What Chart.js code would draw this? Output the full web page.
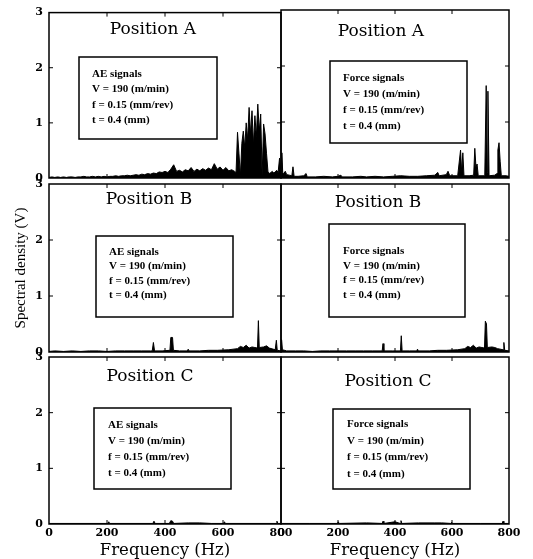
<!DOCTYPE html>
<html>
<head>
<meta charset="utf-8">
<script src="https://cdn.jsdelivr.net/npm/chart.js@4.4.1/dist/chart.umd.min.js"></script>
<style>
  body { margin: 0; background: #fff; }
  #wrap { position: relative; width: 533px; height: 559px; }
  #wrap canvas { position: absolute; left: 0; top: 0; }
</style>
</head>
<body>
<div id="wrap">
  <canvas id="aeA" width="533" height="559"></canvas>
  <canvas id="forceA" width="533" height="559"></canvas>
  <canvas id="aeB" width="533" height="559"></canvas>
  <canvas id="forceB" width="533" height="559"></canvas>
  <canvas id="aeC" width="533" height="559"></canvas>
  <canvas id="forceC" width="533" height="559"></canvas>
</div>
<script>
//spectra (frequency in Hz, spectral density in V)
var aeAFreq = [0,10,20,30,40,50,60,70,80,90,100,110,120,130,140,150,160,170,180,190,200,210,220,230,240,250,260,270,280,290,300,310,320,330,340,350,360,370,380,390,400,410,420,430,440,450,460,470,480,490,500,510,520,530,540,550,560,570,580,590,600,610,620,630,640,645,650,655,660,665,670,675,680,685,690,695,700,705,710,715,720,725,730,735,740,745,750,755,760,765,770,775,780,785,790,795,800];
var aeAVal = [0.01,0.02,0.01,0.02,0.01,0.02,0.01,0.02,0.02,0.01,0.02,0.02,0.03,0.02,0.02,0.03,0.02,0.03,0.02,0.03,0.02,0.03,0.03,0.04,0.03,0.04,0.04,0.05,0.04,0.05,0.06,0.05,0.07,0.06,0.08,0.07,0.09,0.08,0.11,0.1,0.12,0.1,0.16,0.24,0.12,0.14,0.11,0.15,0.13,0.19,0.12,0.16,0.13,0.17,0.14,0.18,0.15,0.26,0.16,0.2,0.14,0.19,0.13,0.15,0.12,0.1,0.83,0.45,0.04,0.63,0.85,0.55,1.0,0.7,1.28,0.8,1.22,0.6,1.13,0.75,1.34,0.85,1.16,0.04,0.98,0.8,0.45,0.12,0.08,0.1,0.12,0.09,0.11,0.14,0.1,0.36,0.1];

var forceAFreq = [0,3,6,10,15,20,30,38,42,46,60,80,88,92,120,150,180,200,210,215,250,280,300,330,360,390,420,450,480,510,540,550,555,580,586,592,620,630,634,638,642,660,676,680,684,688,692,715,720,724,726,730,750,758,761,765,769,773,790,800];
var forceAVal = [0.05,0.45,0.1,0.08,0.12,0.06,0.05,0.04,0.2,0.03,0.03,0.04,0.08,0.02,0.02,0.03,0.02,0.03,0.05,0.02,0.02,0.03,0.02,0.03,0.02,0.03,0.04,0.03,0.03,0.04,0.05,0.1,0.04,0.06,0.12,0.04,0.04,0.5,0.1,0.45,0.04,0.04,0.05,0.53,0.2,0.25,0.04,0.04,1.65,0.1,1.55,0.04,0.05,0.08,0.5,0.63,0.3,0.04,0.04,0.03];

var aeBFreq = [0,20,50,80,110,140,170,200,230,260,290,320,350,356,360,364,390,417,420,426,429,450,477,480,483,520,550,580,620,650,660,670,680,690,700,710,719,722,725,740,750,760,780,782,784,787,800];
var aeBVal = [0.01,0.02,0.01,0.02,0.01,0.02,0.02,0.01,0.02,0.02,0.02,0.02,0.02,0.02,0.17,0.02,0.02,0.03,0.26,0.26,0.03,0.02,0.02,0.05,0.02,0.02,0.03,0.03,0.04,0.06,0.1,0.08,0.12,0.07,0.09,0.08,0.07,0.56,0.08,0.09,0.11,0.07,0.04,0.04,0.21,0.03,0.02];

var forceBFreq = [0,2,5,20,50,80,110,140,170,200,230,260,290,320,355,358,361,390,419,422,425,450,476,479,482,520,550,580,620,645,655,665,675,685,695,705,714,717,721,724,740,750,760,779,782,785,800];
var forceBVal = [0.03,0.22,0.04,0.02,0.02,0.02,0.01,0.02,0.02,0.02,0.02,0.02,0.02,0.02,0.02,0.15,0.02,0.02,0.02,0.29,0.02,0.02,0.02,0.05,0.02,0.02,0.03,0.03,0.04,0.06,0.1,0.08,0.12,0.07,0.09,0.08,0.07,0.55,0.5,0.08,0.09,0.08,0.06,0.04,0.17,0.03,0.02];

var aeCFreq = [0,100,203,206,209,300,358,362,366,415,420,426,430,480,520,560,602,605,608,700,783,786,789,800];
var aeCVal = [0.01,0.01,0.01,0.04,0.01,0.01,0.01,0.05,0.01,0.01,0.06,0.05,0.01,0.02,0.02,0.01,0.01,0.04,0.01,0.01,0.01,0.05,0.01,0.01];

var forceCFreq = [0,100,198,201,204,300,355,358,361,400,418,421,424,482,540,564,596,599,602,700,776,779,782,800];
var forceCVal = [0.01,0.01,0.01,0.04,0.01,0.02,0.01,0.05,0.01,0.04,0.01,0.06,0.01,0.02,0.02,0.02,0.01,0.03,0.01,0.01,0.01,0.05,0.01,0.01];

var yTicks = [0, 1, 2, 3];
var xTicks = [0, 200, 400, 600, 800];

//text in the boxes
var aeLines = ["AE signals", "V = 190 (m/min)", "f = 0.15 (mm/rev)", "t = 0.4 (mm)"];
var forceLines = ["Force signals", "V = 190 (m/min)", "f = 0.15 (mm/rev)", "t = 0.4 (mm)"];

var tickFont = { family: "DejaVu Serif", size: 11, weight: "bold" };

// draws the frame, tick marks, the panel title and the note box
const panelText = {
    id: "panelText",
    afterDraw(chart, args, o) {
        const ctx = chart.ctx;
        const a = chart.chartArea;
        const xs = chart.scales.x, ys = chart.scales.y;
        ctx.save();
        ctx.strokeStyle = "#000";
        ctx.lineWidth = 1.5;
        ctx.strokeRect(a.left, a.top, a.right - a.left, a.bottom - a.top);

        ctx.lineWidth = 1;
        ctx.beginPath();
        [1, 2].forEach(v => {
            const py = ys.getPixelForValue(v);
            ctx.moveTo(a.left, py); ctx.lineTo(a.left + 4, py);
            ctx.moveTo(a.right, py); ctx.lineTo(a.right - 4, py);
        });
        [200, 400, 600].forEach(v => {
            const px = xs.getPixelForValue(v);
            ctx.moveTo(px, a.bottom); ctx.lineTo(px, a.bottom - 4);
            ctx.moveTo(px, a.top); ctx.lineTo(px, a.top + 4);
        });
        ctx.stroke();

        ctx.fillStyle = "#000";
        ctx.font = "17px 'DejaVu Serif'";
        ctx.textAlign = "center";
        ctx.textBaseline = "middle";
        ctx.fillText(o.title, o.titleX, o.titleY);

        ctx.lineWidth = 1.5;
        ctx.strokeRect(o.box[0], o.box[1], o.box[2], o.box[3]);
        ctx.font = "bold 11px 'Liberation Serif'";
        ctx.textAlign = "left";
        o.lines.forEach((t, i) => {
            ctx.fillText(t, o.textX, o.textY[i]);
        });
        ctx.restore();
    }
};

function makePanel(id, freq, vals, opts) {
    new Chart(id, {
        type: "line",
        data: {
            datasets: [{
                data: freq.map((f, i) => ({ x: f, y: vals[i] })),
                borderColor: "#000",
                backgroundColor: "#000",
                borderWidth: 1,
                fill: "origin",
                pointRadius: 0,
                tension: 0
            }]
        },
        options: {
            responsive: false,
            animation: false,
            events: [],
            layout: { padding: opts.pad },
            plugins: {
                legend: { display: false },
                tooltip: { enabled: false },
                panelText: opts.text
            },
            scales: {
                x: {
                    type: "linear",
                    min: 0,
                    max: 800,
                    display: opts.showX,
                    afterFit: s => { s.height = opts.showX ? 35 : 0; },
                    afterBuildTicks: s => { s.ticks = xTicks.map(v => ({ value: v })); },
                    grid: { display: false, drawTicks: false },
                    border: { display: false },
                    ticks: { font: tickFont, color: "#000", padding: 3, maxRotation: 0 },
                    title: {
                        display: opts.showX,
                        text: "Frequency (Hz)",
                        color: "#000",
                        font: { family: "DejaVu Serif", size: 16.5 },
                        padding: { top: 0, bottom: -2 }
                    }
                },
                y: {
                    min: 0,
                    max: 3,
                    display: opts.showY,
                    afterFit: s => { s.width = opts.showY ? 49 : 0; },
                    afterBuildTicks: s => { s.ticks = yTicks.map(v => ({ value: v })); },
                    grid: { display: false, drawTicks: false },
                    border: { display: false },
                    ticks: { font: tickFont, color: "#000", padding: 6 },
                    title: {
                        display: opts.yTitle === true,
                        text: "Spectral density (V)",
                        color: "#000",
                        font: { family: "Liberation Serif", size: 15 },
                        padding: { top: 12, bottom: 0 }
                    }
                }
            }
        },
        plugins: [panelText]
    });
}

//------- top row -------
makePanel("aeA", aeAFreq, aeAVal, {
    pad: { left: 0, right: 252, top: 10, bottom: 381 }, showX: false, showY: true,
    text: { title: "Position A", titleX: 153, titleY: 30, box: [79, 57, 138, 82], lines: aeLines, textX: 92, textY: [74, 89.5, 105, 120.5] }
});
makePanel("forceA", forceAFreq, forceAVal, {
    pad: { left: 281, right: 24, top: 10, bottom: 381 }, showX: false, showY: false,
    text: { title: "Position A", titleX: 381, titleY: 32, box: [330, 61, 137, 82], lines: forceLines, textX: 343, textY: [78, 94, 110, 126] }
});

//------- middle row -------
makePanel("aeB", aeBFreq, aeBVal, {
    pad: { left: 0, right: 252, top: 184, bottom: 207 }, showX: false, showY: true, yTitle: true,
    text: { title: "Position B", titleX: 149, titleY: 200, box: [96, 236, 137, 81], lines: aeLines, textX: 109, textY: [252, 266.5, 281, 295.5] }
});
makePanel("forceB", forceBFreq, forceBVal, {
    pad: { left: 281, right: 24, top: 184, bottom: 207 }, showX: false, showY: false,
    text: { title: "Position B", titleX: 378, titleY: 203, box: [329, 224, 136, 93], lines: forceLines, textX: 343, textY: [251, 266, 280, 295] }
});

//------- bottom row -------
makePanel("aeC", aeCFreq, aeCVal, {
    pad: { left: 0, right: 252, top: 357, bottom: 0 }, showX: true, showY: true,
    text: { title: "Position C", titleX: 150, titleY: 377, box: [94, 408, 137, 81], lines: aeLines, textX: 108, textY: [425, 441, 457, 473] }
});
makePanel("forceC", forceCFreq, forceCVal, {
    pad: { left: 281, right: 24, top: 357, bottom: 0 }, showX: true, showY: false,
    text: { title: "Position C", titleX: 388, titleY: 382, box: [333, 409, 137, 80], lines: forceLines, textX: 347, textY: [424, 441, 457, 474] }
});
</script>
</body>
</html>
